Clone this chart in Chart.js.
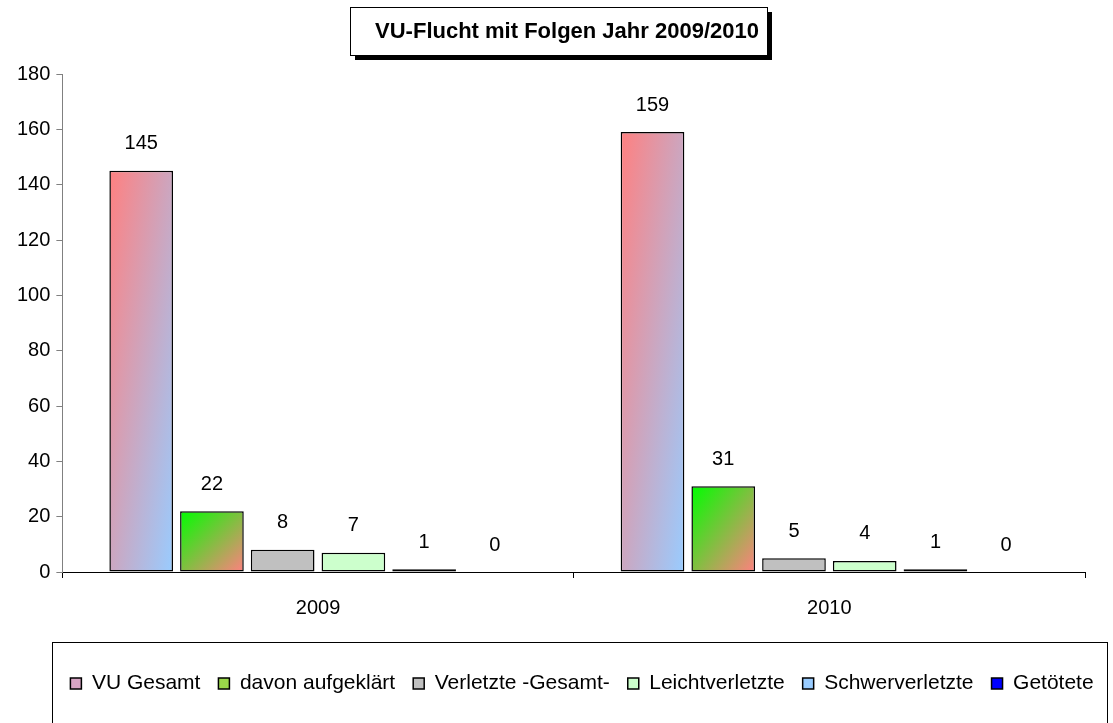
<!DOCTYPE html>
<html lang="de">
<head>
<meta charset="utf-8">
<title>VU-Flucht mit Folgen Jahr 2009/2010</title>
<script src="https://cdn.jsdelivr.net/npm/chart.js@4/dist/chart.umd.min.js"></script>
<style>
	html, body { margin: 0; padding: 0; background: #fff; }
	canvas { display: block; }
</style>
</head>
<body>
<canvas id="grafico" width="1113" height="723"></canvas>
<script>
	// Jahre (x-Achse)
	const jahre = ['2009', '2010']

	// Werte je Reihe, Reihenfolge wie jahre
	const vuGesamt = [145, 159]
	const aufgeklaert = [22, 31]
	const verletzte = [8, 5]
	const leichtverletzte = [7, 4]
	const schwerverletzte = [1, 1]
	const getoetete = [0, 0]

	// Skala der y-Achse
	const yMin = 0
	const yMax = 180
	const ySchritt = 20

	const titel = 'VU-Flucht mit Folgen Jahr 2009/2010'
	const schrift = '"Liberation Sans", Arial, sans-serif'

	// Farben: zwei Werte = Verlauf diagonal oben links -> unten rechts
	const reihen = [
		{ name: 'VU Gesamt', werte: vuGesamt, farbe: ['#ff8080', '#99ccff'], legende: '#d8a4c4' },
		{ name: 'davon aufgeklärt', werte: aufgeklaert, farbe: ['#00ff00', '#ff8080'], legende: '#9ad84a' },
		{ name: 'Verletzte -Gesamt-', werte: verletzte, farbe: '#c0c0c0' },
		{ name: 'Leichtverletzte', werte: leichtverletzte, farbe: '#ccffcc' },
		{ name: 'Schwerverletzte', werte: schwerverletzte, farbe: '#99ccff' },
		{ name: 'Getötete', werte: getoetete, farbe: '#0000ff' }
	]

	// Verlauf in Balkenkoordinaten (t = x/b/2 + y/h/2)
	const verlaufPlugin = {
		id: 'verlauf',
		beforeDatasetsDraw(chart) {
			const ctx = chart.ctx
			chart.data.datasets.forEach((ds, i) => {
				const farbe = reihen[i].farbe
				if (!Array.isArray(farbe)) return
				chart.getDatasetMeta(i).data.forEach(bar => {
					const b = bar.width
					const h = bar.base - bar.y
					if (h <= 0) return
					const links = bar.x - b / 2
					const n = h * h + b * b
					const g = ctx.createLinearGradient(links, bar.y,
						links + 2 * b * h * h / n, bar.y + 2 * b * b * h / n)
					g.addColorStop(0, farbe[0])
					g.addColorStop(1, farbe[1])
					bar.options = Object.assign({}, bar.options, { backgroundColor: g })
				})
			})
		}
	}

	// Werte über den Balken
	const werteLabels = {
		id: 'werteLabels',
		afterDatasetsDraw(chart) {
			const ctx = chart.ctx
			ctx.save()
			ctx.font = '20px ' + schrift
			ctx.fillStyle = '#000'
			ctx.textAlign = 'center'
			ctx.textBaseline = 'middle'
			chart.data.datasets.forEach((ds, i) => {
				chart.getDatasetMeta(i).data.forEach((bar, j) => {
					ctx.fillText(ds.data[j], bar.x, bar.y - 27)
				})
			})
			ctx.restore()
		}
	}

	// Titel mit Rahmen und Schatten, Rahmen um die Legende
	const rahmen = {
		id: 'rahmen',
		afterLayout(chart) {
			// Legende mittig unter ihrem Rahmen
			chart.legend.left += 34
			chart.legend.right += 34
		},
		beforeDraw(chart) {
			const ctx = chart.ctx
			ctx.save()
			ctx.fillStyle = '#fff'
			ctx.fillRect(0, 0, chart.width, chart.height)

			// Schatten
			ctx.fillStyle = '#000'
			ctx.fillRect(355, 12, 417, 48)
			ctx.fillStyle = '#fff'
			ctx.fillRect(350, 7, 417, 48)
			ctx.strokeStyle = '#000'
			ctx.lineWidth = 1
			ctx.strokeRect(350.5, 7.5, 417, 48)

			ctx.font = 'bold 22px ' + schrift
			ctx.fillStyle = '#000'
			ctx.textAlign = 'center'
			ctx.textBaseline = 'middle'
			ctx.fillText(titel, 567, 32)

			ctx.strokeRect(52.5, 642.5, 1055, 100)
			ctx.restore()
		}
	}

	const datasets = reihen.map(r => ({
		label: r.name,
		data: r.werte,
		backgroundColor: Array.isArray(r.farbe) ? r.legende : r.farbe,
		borderColor: '#000',
		borderWidth: c => (c.raw ? 1.5 : 0),
		borderSkipped: false,
		barPercentage: 0.9,
		categoryPercentage: 0.83
	}))

	const grafico = new Chart(document.querySelector('#grafico'), {
		type: 'bar',
		data: { labels: jahre, datasets: datasets },
		options: {
			responsive: false,
			animation: false,
			events: [],
			layout: { padding: { left: 11, right: 28, top: 74, bottom: 19 } },
			plugins: {
				title: { display: false },
				tooltip: { enabled: false },
				legend: {
					display: true,
					position: 'bottom',
					labels: {
						color: '#000',
						font: { family: schrift, size: 21 },
						boxWidth: 11,
						boxHeight: 11,
						padding: 18,
						generateLabels(chart) {
							return reihen.map((r, i) => ({
								text: r.name,
								fillStyle: Array.isArray(r.farbe) ? r.legende : r.farbe,
								strokeStyle: '#000',
								lineWidth: 1.5,
								datasetIndex: i
							}))
						}
					}
				}
			},
			scales: {
				x: {
					grid: { display: true, drawOnChartArea: false, offset: true, color: '#000', tickLength: 6 },
					border: { display: true, color: '#000', width: 1 },
					ticks: { color: '#000', font: { family: schrift, size: 20 }, padding: 18 },
					afterFit(scale) { scale.height = 83 }
				},
				y: {
					min: yMin,
					max: yMax,
					grid: { display: true, drawOnChartArea: false, color: '#808080', tickLength: 6 },
					border: { display: true, color: '#808080', width: 1 },
					ticks: { stepSize: ySchritt, color: '#000', font: { family: schrift, size: 20 }, padding: 6 }
				}
			}
		},
		plugins: [verlaufPlugin, werteLabels, rahmen]
	})
</script>
</body>
</html>
